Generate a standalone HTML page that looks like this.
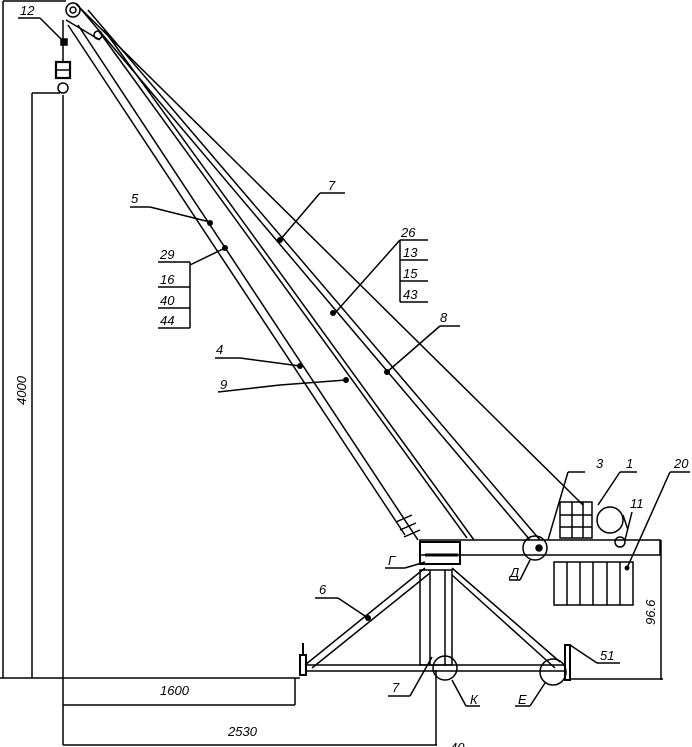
<!DOCTYPE html>
<html><head><meta charset="utf-8"><style>
html,body{margin:0;padding:0;background:#fff;}
svg{display:block;}
text{font-family:"Liberation Sans",sans-serif;font-style:italic;font-size:13px;fill:#000;}
</style></head><body>
<svg width="692" height="747" viewBox="0 0 692 747" xmlns="http://www.w3.org/2000/svg">
<g stroke="#000" stroke-width="1.5" fill="none">
<line x1="3" y1="1" x2="3" y2="678"/>
<line x1="3" y1="1" x2="66" y2="1"/>
<line x1="32" y1="93" x2="32" y2="678"/>
<line x1="32" y1="93" x2="60" y2="93"/>
<line x1="0" y1="678" x2="300" y2="678"/>
<line x1="63" y1="95" x2="63" y2="745"/>
<line x1="63" y1="20" x2="63" y2="62"/>
<rect x="56" y="62" width="14" height="16" stroke-width="2.2"/>
<line x1="56" y1="70" x2="70" y2="70"/>
<circle cx="63" cy="88" r="5"/>
<line x1="18" y1="18" x2="40" y2="18"/>
<line x1="40" y1="18" x2="64" y2="42"/>
<rect x="61" y="39" width="6" height="6" fill="#000"/>
<circle cx="73" cy="10" r="7"/>
<circle cx="73" cy="10" r="3"/>
<line x1="76" y1="4" x2="583" y2="505"/>
<line x1="80" y1="8" x2="530" y2="540"/>
<line x1="88" y1="10" x2="540" y2="540"/>
<line x1="68" y1="25" x2="405" y2="535"/>
<line x1="78" y1="25" x2="418" y2="540"/>
<line x1="98" y1="30" x2="467" y2="538"/>
<line x1="104" y1="30" x2="474" y2="540"/>
<line x1="66" y1="20" x2="100" y2="40"/>
<circle cx="98" cy="35" r="4"/>
<line x1="396" y1="522" x2="412" y2="515"/>
<line x1="400" y1="530" x2="416" y2="523"/>
<line x1="404" y1="537" x2="420" y2="530"/>
<rect x="420" y="540" width="240" height="15"/>
<rect x="420" y="542" width="40" height="22" stroke-width="2"/>
<line x1="425" y1="555" x2="458" y2="555" stroke-width="3"/>
<circle cx="535" cy="548" r="12"/>
<circle cx="539" cy="548" r="3" fill="#000"/>
<rect x="560" y="502" width="32" height="36"/>
<line x1="560" y1="515" x2="592" y2="515"/>
<line x1="560" y1="527" x2="592" y2="527"/>
<line x1="572" y1="502" x2="572" y2="538"/>
<line x1="583" y1="502" x2="583" y2="538"/>
<circle cx="610" cy="520" r="13"/>
<circle cx="620" cy="542" r="5"/>
<line x1="623" y1="515" x2="628" y2="530"/>
<rect x="554" y="562" width="79" height="43"/>
<line x1="567" y1="562" x2="567" y2="605"/>
<line x1="580" y1="562" x2="580" y2="605"/>
<line x1="593" y1="562" x2="593" y2="605"/>
<line x1="607" y1="562" x2="607" y2="605"/>
<line x1="620" y1="562" x2="620" y2="605"/>
<line x1="661" y1="540" x2="661" y2="680"/>
<line x1="570" y1="679" x2="663" y2="679"/>
<rect x="420" y="570" width="32" height="95"/>
<line x1="430" y1="570" x2="430" y2="665"/>
<line x1="445" y1="570" x2="445" y2="665"/>
<line x1="425" y1="568" x2="305" y2="665"/>
<line x1="430" y1="573" x2="312" y2="668"/>
<line x1="452" y1="568" x2="560" y2="662"/>
<line x1="452" y1="575" x2="555" y2="668"/>
<line x1="305" y1="665" x2="565" y2="665"/>
<line x1="305" y1="671" x2="565" y2="671"/>
<rect x="300" y="655" width="6" height="20" stroke-width="2"/>
<line x1="303" y1="643" x2="303" y2="655" stroke-width="2"/>
<rect x="565" y="645" width="5" height="35" stroke-width="2"/>
<circle cx="445" cy="668" r="12"/>
<circle cx="553" cy="672" r="13"/>
<line x1="63" y1="705" x2="295" y2="705"/>
<line x1="295" y1="678" x2="295" y2="705"/>
<line x1="63" y1="745" x2="437" y2="745"/>
<line x1="436" y1="670" x2="436" y2="745"/>
<line x1="130" y1="207" x2="150" y2="207"/><line x1="150" y1="207" x2="210" y2="222"/>
<line x1="190" y1="265" x2="225" y2="248"/>
<line x1="320" y1="193" x2="345" y2="193"/><line x1="320" y1="193" x2="280" y2="240"/>
<line x1="400" y1="240" x2="335" y2="313"/>
<line x1="440" y1="326" x2="460" y2="326"/><line x1="440" y1="326" x2="387" y2="372"/>
<line x1="215" y1="358" x2="240" y2="358"/><line x1="240" y1="358" x2="300" y2="366"/>
<line x1="218" y1="392" x2="280" y2="385"/><line x1="280" y1="385" x2="346" y2="380"/>
<line x1="315" y1="598" x2="338" y2="598"/><line x1="338" y1="598" x2="368" y2="618"/>
<line x1="388" y1="696" x2="410" y2="696"/><line x1="410" y1="696" x2="432" y2="657"/>
<line x1="466" y1="706" x2="480" y2="706"/><line x1="466" y1="706" x2="452" y2="680"/>
<line x1="515" y1="706" x2="530" y2="706"/><line x1="530" y1="706" x2="545" y2="683"/>
<line x1="597" y1="663" x2="620" y2="663"/><line x1="597" y1="663" x2="570" y2="645"/>
<line x1="385" y1="568" x2="405" y2="568"/><line x1="405" y1="568" x2="425" y2="562"/>
<line x1="509" y1="580" x2="520" y2="580"/><line x1="520" y1="580" x2="530" y2="560"/>
<line x1="568" y1="472" x2="585" y2="472"/><line x1="568" y1="472" x2="548" y2="540"/>
<line x1="620" y1="472" x2="637" y2="472"/><line x1="620" y1="472" x2="598" y2="505"/>
<line x1="632" y1="512" x2="625" y2="540"/>
<line x1="670" y1="472" x2="690" y2="472"/><line x1="670" y1="472" x2="627" y2="568"/>
<line x1="158" y1="262" x2="190" y2="262"/><line x1="158" y1="287" x2="190" y2="287"/>
<line x1="158" y1="308" x2="190" y2="308"/><line x1="158" y1="328" x2="190" y2="328"/>
<line x1="190" y1="262" x2="190" y2="328"/>
<line x1="400" y1="240" x2="428" y2="240"/><line x1="400" y1="260" x2="428" y2="260"/>
<line x1="400" y1="281" x2="428" y2="281"/><line x1="400" y1="302" x2="428" y2="302"/>
<line x1="400" y1="240" x2="400" y2="302"/>
</g>
<g fill="#000">
<circle cx="210" cy="223" r="3"/><circle cx="225" cy="248" r="3"/><circle cx="280" cy="240" r="3"/>
<circle cx="333" cy="313" r="3"/><circle cx="387" cy="372" r="3"/><circle cx="300" cy="366" r="3"/>
<circle cx="346" cy="380" r="3"/><circle cx="368" cy="618" r="3"/><circle cx="627" cy="568" r="2.5"/>
</g>
<text x="20" y="15">12</text>
<text x="131" y="203">5</text>
<text x="160" y="259">29</text><text x="160" y="284">16</text><text x="160" y="305">40</text><text x="160" y="325">44</text>
<text x="328" y="190">7</text>
<text x="401" y="237">26</text><text x="403" y="257">13</text><text x="403" y="278">15</text><text x="403" y="299">43</text>
<text x="440" y="322">8</text>
<text x="216" y="354">4</text>
<text x="220" y="389">9</text>
<text x="319" y="594">6</text>
<text x="392" y="692">7</text>
<text x="470" y="704">К</text>
<text x="518" y="704">Е</text>
<text x="600" y="660">51</text>
<text x="388" y="565">Г</text>
<text x="510" y="577">Д</text>
<text x="596" y="468">3</text>
<text x="626" y="468">1</text>
<text x="630" y="508">11</text>
<text x="674" y="468">20</text>
<text x="160" y="695">1600</text>
<text x="228" y="736">2530</text>
<text x="450" y="752">40</text>
<text transform="translate(26,405) rotate(-90)">4000</text>
<text transform="translate(655,625) rotate(-90)">96.6</text>
</svg>
</body></html>
